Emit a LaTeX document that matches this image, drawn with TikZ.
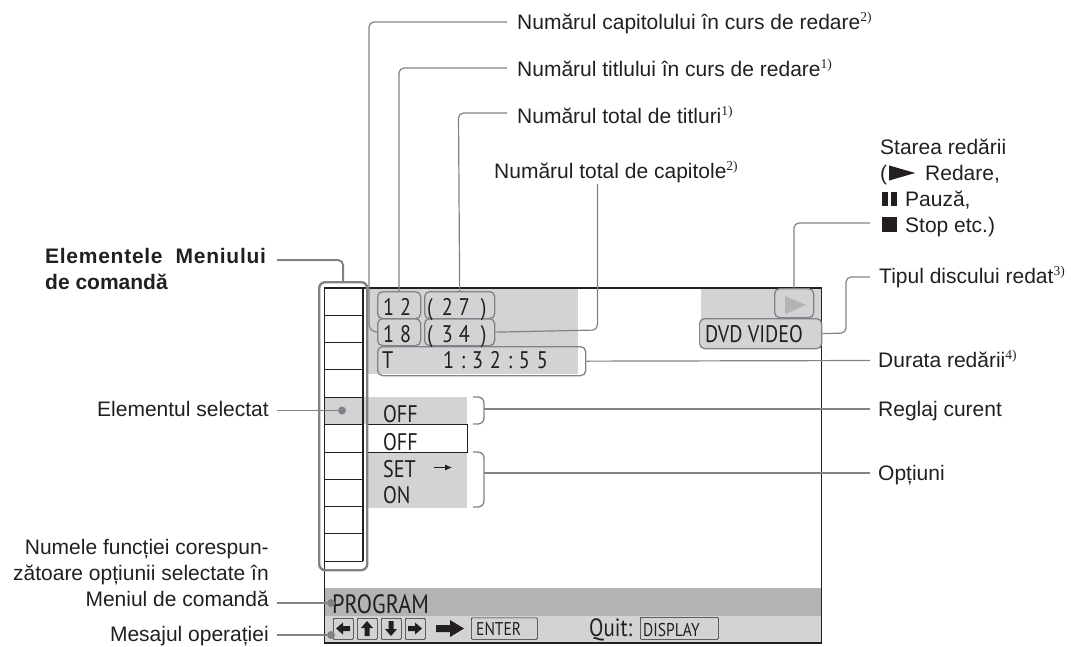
\documentclass[tikz,border=0pt]{standalone}
\usetikzlibrary{arrows.meta}
\usepackage{fontspec}
\setmainfont{Liberation Sans}
\newfontfamily\scr[FakeStretch=0.84]{PT Sans}
\newfontfamily\sups{Liberation Serif}
\definecolor{ln}{HTML}{231F20}
\definecolor{cal}{HTML}{808285}
\definecolor{lg}{HTML}{D1D3D4}
\definecolor{mg}{HTML}{B1B3B5}
\newcommand{\up}[1]{\raisebox{8pt}{\sups\fontsize{13.5}{14}\selectfont #1}}
\newcommand{\lab}{\fontsize{21}{25.8}\selectfont}
\tikzset{
  lbl/.style={inner sep=0pt,text=ln,font=\lab,anchor=base west},
  lbr/.style={inner sep=0pt,text=ln,font=\lab,align=right,anchor=base east},
  call/.style={draw=cal,line width=1.2pt,rounded corners=5pt},
  box/.style={draw=cal,line width=1.3pt,rounded corners=5pt,inner sep=0pt,anchor=north west},
  scrtxt/.style={inner sep=0pt,text=ln,font=\scr\fontsize{24}{24}\selectfont,anchor=base west},
  keytxt/.style={inner sep=0pt,text=ln,font=\scr\fontsize{18.5}{19}\selectfont,anchor=base west},
  frame/.style={draw=ln,line width=1.2pt},
  rowline/.style={draw=ln,line width=1pt},
  dot/.style={circle,fill=cal,inner sep=0pt,minimum size=8pt},
  key/.style={draw=ln,line width=.7pt,rounded corners=1pt,inner sep=0pt,anchor=north west}
}
\begin{document}
\begin{tikzpicture}[x=1pt,y=-1pt]
\useasboundingbox (0,0) rectangle (1071,646);
% grey bands
\fill[lg] (367,288) rectangle (578,374);
\fill[lg] (701,288) rectangle (821,348);
\fill[lg] (325,397) rectangle (467,424);
\fill[lg] (367,452) rectangle (467,508);
\fill[mg] (325,588) rectangle (821,616);
\fill[lg] (325,616) rectangle (821,643);
% screen frame
\draw[frame] (324.5,288) rectangle (821.5,643);
\draw[frame] (363,288) -- (363,561);
\foreach \yy in {315,342,369,397,424,452,479,506,533,561}{\draw[rowline] (324.5,\yy) -- (363,\yy);}
\draw[draw=ln,line width=.9pt,fill=white] (367,424) rectangle (467,452);
% column selection box
\node[draw=cal,line width=2.4pt,rounded corners=6pt,inner sep=0pt,minimum width=48pt,minimum height=288pt,anchor=north west] (col) at (318,281) {};
% display boxes
\node[box,minimum width=43pt,minimum height=27pt] (n12) at (377,291) {};
\node[box,minimum width=70pt,minimum height=27pt] (n27) at (424,291) {};
\node[box,minimum width=43pt,minimum height=27pt] (n18) at (377,318) {};
\node[box,minimum width=70pt,minimum height=27pt] (n34) at (424,318) {};
\node[box,minimum width=208pt,minimum height=29pt] (ntime) at (377,346) {};
\node[box,minimum width=39pt,minimum height=29pt] (nplay) at (774,288) {};
\node[box,minimum width=122pt,minimum height=30pt] (ndisc) at (699,318) {};
% display texts
\node[scrtxt] (t12) at (383,315) {1\hspace{6pt}2};
\node[scrtxt] (t27) at (427,315) {(\hspace{9pt}2\hspace{6pt}7\hspace{11pt})};
\node[scrtxt] (t18) at (383,342) {1\hspace{6pt}8};
\node[scrtxt] (t34) at (427,342) {(\hspace{9pt}3\hspace{6pt}4\hspace{11pt})};
\node[scrtxt] (tt) at (382,368) {T};
\node[scrtxt] (ttime) at (443,368) {1\hspace{6.8pt}:\hspace{6.8pt}3\hspace{6.8pt}2\hspace{6.8pt}:\hspace{6.8pt}5\hspace{6.8pt}5};
\fill[mg] (785,296) -- (806,305) -- (785,314) -- cycle;
\node[scrtxt] (tdvd) at (705,342) {DVD VIDEO};
\node[scrtxt] (o1) at (383,422) {OFF};
\node[scrtxt] (o2) at (383,450) {OFF};
\node[scrtxt] (o3) at (383,477) {SET};
\node[scrtxt] (o4) at (383,503) {ON};
\coordinate (astart) at (434,467.5);
\coordinate (aend) at (452,467.5);
\draw[ln,line width=.8pt,-{Latex[length=7pt,width=6pt]}] (astart) -- (aend);
\node[scrtxt,font=\scr\fontsize{26.5}{27}\selectfont] (tprog) at (332,613) {PROGRAM};
% key row
\node[key,minimum width=20pt,minimum height=21pt] (k1) at (333,618) {};
\node[key,minimum width=20pt,minimum height=21pt] (k2) at (357,618) {};
\node[key,minimum width=20pt,minimum height=21pt] (k3) at (381,618) {};
\node[key,minimum width=20pt,minimum height=21pt] (k4) at (405,618) {};
\node[key,minimum width=66pt,minimum height=21.5pt] (kenter) at (471,617.5) {};
\node[keytxt] (tenter) at (476,635) {ENTER};
\node[scrtxt,font=\scr\fontsize{25}{25}\selectfont] (tquit) at (589,636) {Quit:};
\node[key,minimum width=78pt,minimum height=22pt] (kdisp) at (640,617) {};
\node[keytxt] (tdisp) at (643,636) {DISPLAY};
\fill[ln] (336,628.5) -- (343,622.5) -- (343,626) -- (350,626) -- (350,631) -- (343,631) -- (343,634.5) -- cycle;
\fill[ln] (367,621) -- (373,628) -- (369.5,628) -- (369.5,636) -- (364.5,636) -- (364.5,628) -- (361,628) -- cycle;
\fill[ln] (391,636) -- (385,629) -- (388.5,629) -- (388.5,621) -- (393.5,621) -- (393.5,629) -- (397,629) -- cycle;
\fill[ln] (422,628.5) -- (415,622.5) -- (415,626) -- (408,626) -- (408,631) -- (415,631) -- (415,634.5) -- cycle;
\fill[ln] (464,628.5) -- (450,620) -- (450,625) -- (436,625) -- (436,632) -- (450,632) -- (450,637) -- cycle;
% dots
\node[dot] (d1) at (342,410.5) {};
\node[dot] (d2) at (331,603) {};
\node[dot] (d3) at (331,635) {};
% left labels
\node[lbl,font=\lab\bfseries\addfontfeature{LetterSpace=3.5}] (lcol1) at (45,263) {Elementele\hspace{13pt}Meniului};
\node[lbl,font=\lab\bfseries] (lcol2) at (45,289) {de comandă};
\node[lbr] (lsel) at (269,416) {Elementul selectat};
\node[lbr,anchor=north east] (lname) at (269,539) {Numele funcției corespun-\\zătoare opțiunii selectate în\\Meniul de comandă};
\node[lbr] (lmsg) at (269,641) {Mesajul operației};
% right / top labels
\node[lbl] (lcap) at (517,29) {Numărul capitolului în curs de redare\up{2)}};
\node[lbl] (ltit) at (517,76) {Numărul titlului în curs de redare\up{1)}};
\node[lbl] (ltot) at (517,123) {Numărul total de titluri\up{1)}};
\node[lbl] (ltc) at (494,178) {Numărul total de capitole\up{2)}};
\node[lbl,align=left,anchor=north west] (lst) at (880,139) {Starea redării\\(\hspace{2pt}\tikz[baseline=0pt,x=1pt,y=1pt]\fill[ln] (0,0) -- (26,7.5) -- (0,15) -- cycle;\hspace{10pt}Redare,\\\hspace{2pt}\tikz[baseline=0pt,x=1pt,y=1pt]{\fill[ln] (0,0) rectangle (6,14);\fill[ln] (9,0) rectangle (15,14);}\hspace{8pt}Pauză,\\\hspace{2pt}\tikz[baseline=0pt,x=1pt,y=1pt]\fill[ln] (0,0) rectangle (15,15);\hspace{8pt}Stop etc.)};
\node[lbl] (ltip) at (879,283) {Tipul discului redat\up{3)}};
\node[lbl] (ldur) at (878,367) {Durata redării\up{4)}};
\node[lbl] (lreg) at (878,416) {Reglaj curent};
\node[lbl] (lopt) at (878,480) {Opțiuni};
% connector ends
\coordinate (ecap) at (507,22);
\coordinate (etit) at (507,68);
\coordinate (etot) at (507,113);
\coordinate (etc) at (597.5,184);
\coordinate (est) at (870,223);
\coordinate (etip) at (870,277);
\coordinate (edur) at (870,360.5);
\coordinate (ereg) at (870,409);
\coordinate (eopt) at (870,473);
\coordinate (ecol) at (277,260);
\coordinate (esel) at (277,410.5);
\coordinate (ename) at (277,603);
\coordinate (emsg) at (277,635);
% connectors
\draw[call] (ecap) -- (369,22) -- (369,330) -- (n18.west);
\draw[call] (etit) -- (399,68) -- (399,291);
\draw[call] (etot) -- (458.5,113) -- (n27.north);
\draw[call] (etc) -- (597.5,330) -- (n34.east);
\draw[call] (nplay.north -| 794,0) -- (794,223) -- (est);
\draw[call] (ndisc.east) -- (846,333) -- (846,277) -- (etip);
\draw[call] (ntime.east) -- (edur);
\draw[call,line width=2pt] (ecol) -- (343,260) -- (col.north);
\draw[call] (d1) -- (esel);
\draw[call] (ename) -- (d2);
\draw[call] (emsg) -- (d3);
\coordinate (b1a) at (473,397); \coordinate (b1b) at (484,397);
\coordinate (b1c) at (484,424); \coordinate (b1d) at (473,424);
\draw[call,line width=1.3pt,rounded corners=6pt] (b1a) -- (b1b) -- (b1c) -- (b1d);
\draw[call] (484,409) -- (ereg);
\coordinate (b2a) at (473,452); \coordinate (b2b) at (484,452);
\coordinate (b2c) at (484,507); \coordinate (b2d) at (473,507);
\draw[call,line width=1.3pt,rounded corners=6pt] (b2a) -- (b2b) -- (b2c) -- (b2d);
\draw[call] (484,473) -- (eopt);
\end{tikzpicture}
\end{document}
